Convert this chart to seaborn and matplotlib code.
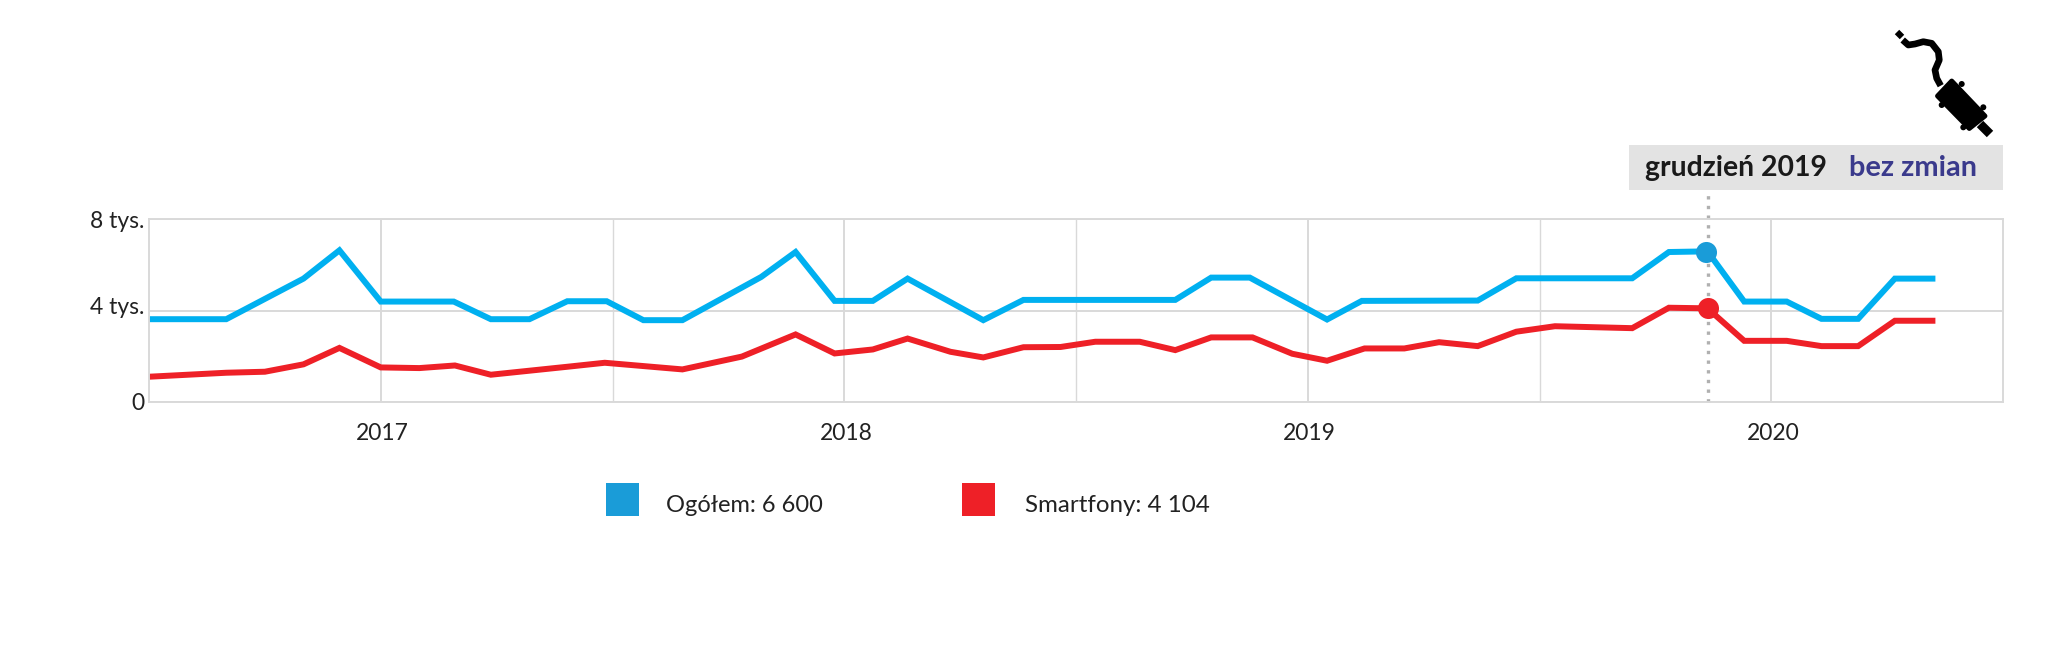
import pandas as pd
import matplotlib
matplotlib.use('Agg')
import matplotlib.pyplot as plt
import seaborn as sns
from matplotlib.patches import Rectangle, Polygon, Circle
from matplotlib.transforms import ScaledTranslation

# months counted from July 2016
total_months = [0, 2, 4, 4.93, 6, 7.89, 8.85, 9.85, 10.83, 11.85, 12.8, 13.81, 15.85,
                16.74, 17.75, 18.74, 19.64, 21.6, 22.64, 26.57, 27.5, 28.5, 30.5,
                31.4, 34.4, 35.4, 38.4, 39.35, 40.35, 41.3, 42.4, 43.3, 44.25, 45.2, 46.25]
total_values = [3628, 3628, 5406, 6645, 4400, 4400, 3628, 3628, 4415, 4415, 3585, 3585, 5479,
                6572, 4430, 4430, 5406, 3585, 4473, 4473, 5450, 5450, 3614,
                4430, 4444, 5420, 5420, 6571, 6600, 4400, 4400, 3643, 3643, 5406, 5406]

smart_months = [0, 2, 3, 4, 4.93, 6, 7, 7.92, 8.85, 10.83, 11.8, 13.81, 15.35,
                16.74, 17.75, 18.74, 19.64, 20.75, 21.6, 22.64, 23.6, 24.5, 25.65,
                26.57, 27.5, 28.57, 29.6, 30.5, 31.47, 32.5, 33.4, 34.4, 35.4,
                36.4, 38.4, 39.35, 40.35, 41.3, 42.4, 43.3, 44.25, 45.2, 46.25]
smart_values = [1107, 1282, 1326, 1650, 2370, 1515, 1486, 1600, 1195, 1544, 1719, 1428, 1990,
                2960, 2127, 2302, 2780, 2200, 1952, 2400, 2410, 2640, 2640,
                2273, 2830, 2830, 2113, 1807, 2346, 2346, 2620, 2448, 3080,
                3320, 3235, 4130, 4104, 2680, 2680, 2448, 2448, 3560, 3560]

year_ticks = [6, 18, 30, 42]
year_labels = ['2017', '2018', '2019', '2020']
half_year_ticks = [12, 24, 36]
value_ticks = [0, 4000, 8000]
value_labels = ['0', '4 tys.', '8 tys.']

highlight_month = 40.35
highlight_total = 6600
highlight_smart = 4104

BLUE_LINE = '#00b0f0'
BLUE_DOT = '#1a9cd8'
RED = '#ee2027'
GRID = '#d9d9d9'
W, H = 2048, 647

sns.set_theme(style='white')
plt.rcParams['font.family'] = ['Lato', 'DejaVu Sans']

fig = plt.figure(figsize=(W / 100, H / 100), dpi=100)
ax = fig.add_axes([149 / W, 1 - 402 / H, (2003 - 149) / W, (402 - 219.4) / H])

total_df = pd.DataFrame({'month': total_months, 'value': total_values})
smart_df = pd.DataFrame({'month': smart_months, 'value': smart_values})

ax.xaxis.grid(True, which='major', color=GRID, lw=1.4)
ax.xaxis.grid(True, which='minor', color=GRID, lw=1.0)
ax.yaxis.grid(True, color=GRID, lw=1.4)
ax.set_axisbelow(True)

sns.lineplot(data=total_df, x='month', y='value', color=BLUE_LINE, lw=4.3, ax=ax,
             estimator=None, sort=False, solid_joinstyle='miter', solid_capstyle='butt')
sns.lineplot(data=smart_df, x='month', y='value', color=RED, lw=4.3, ax=ax,
             estimator=None, sort=False, solid_joinstyle='miter', solid_capstyle='butt')

# dotted line runs up to the grey label
ax.plot([highlight_month, highlight_month], [0, 9150], color='#b0b0b0', lw=2.4,
        ls=(0, (1, 1.9)), clip_on=False, zorder=1.5)
ax.scatter([highlight_month - 0.05], [highlight_total - 30], s=230, color=BLUE_DOT, zorder=5,
           linewidths=0, clip_on=False)
ax.scatter([highlight_month], [highlight_smart], s=230, color=RED, zorder=5,
           linewidths=0, clip_on=False)

ax.set_xlim(0, 48)
ax.set_ylim(0, 8000)
ax.set_xticks(year_ticks)
ax.set_xticklabels(year_labels)
ax.set_xticks(half_year_ticks, minor=True)
ax.set_yticks(value_ticks)
ax.set_yticklabels(value_labels)
ax.set_xlabel('')
ax.set_ylabel('')
ax.tick_params(axis='x', which='both', length=0, pad=15, labelsize=16.5, labelcolor='#222222')
ax.tick_params(axis='y', length=0, pad=3, labelsize=16.5, labelcolor='#222222')
for spine in ax.spines.values():
    spine.set_color(GRID)
    spine.set_linewidth(1.4)

# the middle label sits a little above its grid line
mid_label = ax.get_yticklabels()[1]
mid_label.set_transform(mid_label.get_transform() + ScaledTranslation(0, 0.05, fig.dpi_scale_trans))

# year labels sit a touch right of their grid lines
for lab in ax.get_xticklabels():
    lab.set_transform(lab.get_transform() + ScaledTranslation(0.02, 0, fig.dpi_scale_trans))

# overlay in pixel coordinates for label, legend and icon
over = fig.add_axes([0, 0, 1, 1], facecolor='none')
over.set_xlim(0, W)
over.set_ylim(H, 0)
over.axis('off')

over.add_patch(Rectangle((1629, 145), 374, 45, color='#e3e3e3', lw=0))
over.text(1645, 168, 'grudzień 2019', fontsize=20.4, fontweight='bold', color='#1a1a1a', va='center')
over.text(1849, 168, 'bez zmian', fontsize=20.8, fontweight='bold', color='#3a3a8c', va='center')

over.add_patch(Rectangle((606, 483), 33, 33, color=BLUE_DOT, lw=0))
over.add_patch(Rectangle((962, 483), 33, 33, color=RED, lw=0))
over.text(666, 505, 'Ogółem: 6 600', fontsize=17, color='#222222', va='center')
over.text(1025, 505, 'Smartfony: 4 104', fontsize=17.4, color='#222222', va='center')

# plug icon
over.plot([1897, 1902], [32, 37], color='black', lw=4.5, solid_capstyle='butt')
over.plot([1902.7, 1908.3, 1915, 1923.3, 1931.7, 1938.3, 1939.3, 1935, 1936.7, 1940.7],
          [40, 45, 44, 41.7, 43.3, 51.7, 60, 70, 78.3, 85.7],
          color='black', lw=4.8, solid_capstyle='butt', solid_joinstyle='round')
over.add_patch(Polygon([(1951.7, 81), (1985, 116), (1969.3, 128.5), (1937.5, 96)], closed=True,
                       facecolor='black', edgecolor='black', lw=3.5, joinstyle='round'))
over.plot([1980, 1990], [124, 134], color='black', lw=6.5, solid_capstyle='butt')
for bx, by in [(1961.7, 84), (1983.3, 107.3), (1941.7, 105), (1963.3, 127.3)]:
    over.add_patch(Circle((bx, by), 3, color='black', lw=0))

fig.savefig('out.png', dpi=100, facecolor='white')
